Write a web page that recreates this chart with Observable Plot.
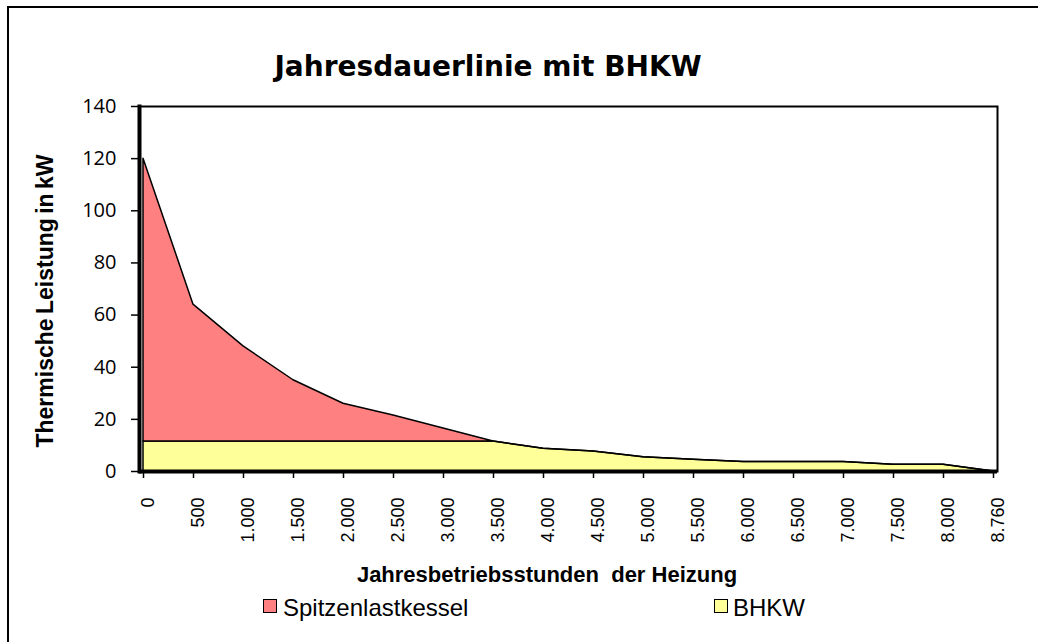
<!DOCTYPE html>
<html>
<head>
<meta charset="utf-8">
<script src="https://cdn.jsdelivr.net/npm/d3@7"></script>
<script src="https://cdn.jsdelivr.net/npm/@observablehq/plot@0.6"></script>
<style>
  html, body { margin: 0; padding: 0; background: #fff; overflow: hidden; }
  #wrap { position: relative; width: 1038px; height: 642px; overflow: hidden; background: #fff; }
  #lineL { position: absolute; left: 7px; top: 6px; width: 2px; height: 640px; background: #000; }
  #lineT { position: absolute; left: 7px; top: 6px; width: 1031px; height: 2px; background: #000; }
  #chart { position: absolute; left: 0; top: 0; }
  .t { position: absolute; white-space: pre; line-height: 1; color: #000; }
  #title { font-family: "DejaVu Sans", sans-serif; font-weight: bold; font-size: 28px; left: 488px; top: 53px; transform: translateX(-50%); }
  #xtitle { font-family: "Liberation Sans", Arial, sans-serif; font-weight: bold; font-size: 22px; left: 547px; top: 564px; transform: translateX(-50%); }
  #ytitle { font-family: "Liberation Sans", Arial, sans-serif; font-weight: bold; font-size: 23px; left: 45px; top: 301px; transform: translate(-50%, -50%) rotate(-90deg); word-spacing: -2px; }
  .sw { position: absolute; width: 14px; height: 14px; box-sizing: border-box; border: 1.5px solid #000; top: 599px; }
  .lg { font-family: "Liberation Sans", Arial, sans-serif; font-size: 24px; top: 596px; }
</style>
</head>
<body>
<div id="wrap">
  <div id="lineL"></div>
  <div id="lineT"></div>
  <div id="chart"></div>
  <div class="t" id="title"></div>
  <div class="t" id="ytitle"></div>
  <div class="t" id="xtitle"></div>
  <div id="legend"></div>
</div>
<script>
const titleText = "Jahresdauerlinie mit BHKW";
const yTitle = "Thermische Leistung in kW";
const xTitle = "Jahresbetriebsstunden  der Heizung";
const hours = ["0","500","1.000","1.500","2.000","2.500","3.000","3.500","4.000","4.500","5.000","5.500","6.000","6.500","7.000","7.500","8.000","8.760"];
const seriesNames = ["BHKW", "Spitzenlastkessel"];
const bhkw = [11.5,11.5,11.5,11.5,11.5,11.5,11.5,11.5,8.7,7.7,5.5,4.5,3.6,3.6,3.6,2.6,2.6,0];
const spitzenlast = [108.5,52.5,36.5,23.5,14.5,10,5,0,0,0,0,0,0,0,0,0,0,0];
const seriesColors = ["#FFFF99", "#FF8080"];
const yTicks = [0,20,40,60,80,100,120,140];

const rows = [];
hours.forEach((h, i) => {
  rows.push({hour: h, series: seriesNames[0], value: bhkw[i]});
  rows.push({hour: h, series: seriesNames[1], value: spitzenlast[i]});
});

const plot = Plot.plot({
  width: 1038,
  height: 642,
  marginLeft: 139,
  marginRight: 41,
  marginTop: 106,
  marginBottom: 171,
  style: {background: "transparent", color: "#000"},
  x: {type: "point", domain: hours, padding: 0},
  y: {domain: [0, 140]},
  color: {domain: seriesNames, range: seriesColors},
  marks: [
    Plot.areaY(rows, {x: "hour", y: "value", fill: "series", order: seriesNames, stroke: "#000", strokeWidth: 1.5, strokeLinejoin: "round"}),
    Plot.frame({stroke: "#000", strokeWidth: 2}),
    Plot.frame({anchor: "left", stroke: "#000", strokeWidth: 4}),
    Plot.ruleY([0], {stroke: "#000", strokeWidth: 4}),
    Plot.axisY({ticks: yTicks, tickSize: 8, text: null, label: null, strokeWidth: 1.5}),
    Plot.axisX({tickSize: 7, text: null, label: null, strokeWidth: 1.5}),
    Plot.text(yTicks, {y: d => d, text: d => String(d), frameAnchor: "left", textAnchor: "end", dx: -23, fontSize: 20, fontFamily: "Open Sans", fill: "#000"}),
    Plot.text(hours, {x: d => d, text: d => d, frameAnchor: "bottom", rotate: -90, textAnchor: "end", lineAnchor: "middle", dy: 26, dx: 5, fontSize: 18, fontFamily: "Liberation Sans", fill: "#000"})
  ]
});
document.getElementById("chart").appendChild(plot);

document.getElementById("title").textContent = titleText;
document.getElementById("ytitle").textContent = yTitle;
document.getElementById("xtitle").textContent = xTitle;

const legendPos = [{sw: 263, tx: 283}, {sw: 714, tx: 733}];
const legend = document.getElementById("legend");
// legend order: Spitzenlastkessel first, BHKW second
[1, 0].forEach((si, k) => {
  const sw = document.createElement("div");
  sw.className = "sw";
  sw.style.left = legendPos[k].sw + "px";
  sw.style.background = seriesColors[si];
  legend.appendChild(sw);
  const tx = document.createElement("div");
  tx.className = "t lg";
  tx.style.left = legendPos[k].tx + "px";
  tx.textContent = seriesNames[si];
  legend.appendChild(tx);
});
</script>
</body>
</html>
